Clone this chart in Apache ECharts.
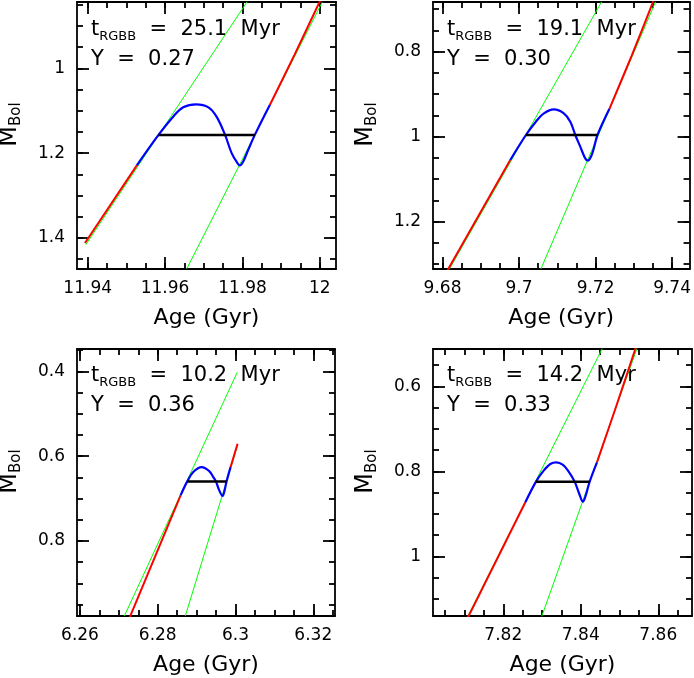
<!DOCTYPE html>
<html>
<head>
<meta charset="utf-8">
<script src="https://cdn.jsdelivr.net/npm/echarts@6/dist/echarts.min.js"></script>
<style>
  html, body { margin: 0; padding: 0; background: #fff; }
  #chart { width: 694px; height: 678px; }
</style>
</head>
<body>
<div id="chart"></div>
<script>
// ---- panel 1 : Y = 0.27 ----
const p1XRange = [11.93724, 12.00417];
const p1YRange = [0.8436, 1.4733];
const p1XTicks = [11.94, 11.96, 11.98, 12];
const p1YTicks = [1, 1.2, 1.4];
const p1RedLow = [[11.9393, 1.412], [11.9527, 1.229]];
const p1Blue = [[11.9527, 1.229], [11.9583, 1.157], [11.9621, 1.114], [11.9647, 1.092], [11.9680, 1.085],
  [11.9712, 1.092], [11.9733, 1.114], [11.9755, 1.157], [11.9772, 1.200], [11.9787, 1.2235], [11.9793, 1.229],
  [11.9802, 1.2196], [11.9815, 1.192], [11.9832, 1.157], [11.9871, 1.086]];
const p1RedHigh = [[11.9871, 1.086], [11.9935, 0.967], [12.0001, 0.840]];
const p1GreenA = [[11.9395, 1.416], [11.9812, 0.843]];
const p1GreenB = [[11.9656, 1.473], [12.0006, 0.844]];
const p1Level = [[11.9583, 1.157], [11.9832, 1.157]];
const p1Text = ['25.1', '0.27'];

// ---- panel 2 : Y = 0.30 ----
const p2XRange = [9.67751, 9.74457];
const p2YRange = [0.6831, 1.3113];
const p2XTicks = [9.68, 9.7, 9.72, 9.74];
const p2YTicks = [0.8, 1, 1.2];
const p2RedLow = [[9.6811, 1.3176], [9.6977, 1.0549]];
const p2Blue = [[9.6977, 1.0549], [9.7018, 0.996], [9.7044, 0.9647], [9.7065, 0.9451], [9.7091, 0.9357],
  [9.7117, 0.9451], [9.7134, 0.9647], [9.7147, 0.996], [9.7160, 1.0235], [9.7173, 1.051], [9.7180, 1.0565],
  [9.7188, 1.047], [9.7195, 1.029], [9.7205, 0.996], [9.7236, 0.9349]];
const p2RedHigh = [[9.7236, 0.9349], [9.7294, 0.8102], [9.7354, 0.6745]];
const p2GreenA = [[9.6818, 1.3114], [9.7216, 0.6824]];
const p2GreenB = [[9.7057, 1.3114], [9.7357, 0.6824]];
const p2Level = [[9.7018, 0.996], [9.7205, 0.996]];
const p2Text = ['19.1', '0.30'];

// ---- panel 3 : Y = 0.36 ----
const p3XRange = [6.25923, 6.32559];
const p3YRange = [0.3474, 0.9771];
const p3XTicks = [6.26, 6.28, 6.3, 6.32];
const p3YTicks = [0.4, 0.6, 0.8];
const p3RedLow = [[6.27268, 0.9827], [6.28588, 0.6925]];
const p3Blue = [[6.28588, 0.6925], [6.28759, 0.6596], [6.28913, 0.6376], [6.29128, 0.6259], [6.29325, 0.6353],
  [6.29428, 0.6494], [6.29496, 0.6596], [6.29582, 0.6808], [6.29668, 0.6941], [6.29719, 0.6808],
  [6.2977, 0.6596], [6.29873, 0.6259]];
const p3RedHigh = [[6.29873, 0.6259], [6.30053, 0.571]];
const p3GreenA = [[6.2714, 0.9773], [6.30045, 0.4024]];
const p3GreenB = [[6.28708, 0.9773], [6.30045, 0.5773]];
const p3Level = [[6.28759, 0.6596], [6.2977, 0.6596]];
const p3Text = ['10.2', '0.36'];

// ---- panel 4 : Y = 0.33 ----
const p4XRange = [7.80186, 7.8687];
const p4YRange = [0.5122, 1.1404];
const p4XTicks = [7.82, 7.84, 7.86];
const p4YTicks = [0.6, 0.8, 1];
const p4RedLow = [[7.8108, 1.1451], [7.82569, 0.8729]];
const p4Blue = [[7.82569, 0.8729], [7.82844, 0.8243], [7.83042, 0.7984], [7.83214, 0.7827], [7.83369, 0.7788],
  [7.83541, 0.7851], [7.83687, 0.8008], [7.83842, 0.8243], [7.83962, 0.8533], [7.84057, 0.8714],
  [7.84126, 0.8573], [7.84229, 0.8243], [7.84418, 0.7788]];
const p4RedHigh = [[7.84418, 0.7788], [7.84934, 0.6416], [7.8545, 0.5004]];
const p4GreenA = [[7.8108, 1.142], [7.84556, 0.5106]];
const p4GreenB = [[7.8299, 1.142], [7.85476, 0.5043]];
const p4Level = [[7.82844, 0.8243], [7.84229, 0.8243]];
const p4Text = ['14.2', '0.33'];

const FONT = 'DejaVu Sans';

const grids = [
  { left: 77, top: 2, width: 259, height: 267 },
  { left: 433, top: 2, width: 259, height: 267 },
  { left: 77, top: 349, width: 258, height: 267 },
  { left: 433, top: 349, width: 259, height: 267 },
];

const panels = [
  { xr: p1XRange, yr: p1YRange, xt: p1XTicks, yt: p1YTicks, red: [p1RedLow, p1RedHigh], blue: p1Blue, green: [p1GreenA, p1GreenB], level: p1Level, text: p1Text, textY: 16 },
  { xr: p2XRange, yr: p2YRange, xt: p2XTicks, yt: p2YTicks, red: [p2RedLow, p2RedHigh], blue: p2Blue, green: [p2GreenA, p2GreenB], level: p2Level, text: p2Text, textY: 16 },
  { xr: p3XRange, yr: p3YRange, xt: p3XTicks, yt: p3YTicks, red: [p3RedLow, p3RedHigh], blue: p3Blue, green: [p3GreenA, p3GreenB], level: p3Level, text: p3Text, textY: 362 },
  { xr: p4XRange, yr: p4YRange, xt: p4XTicks, yt: p4YTicks, red: [p4RedLow, p4RedHigh], blue: p4Blue, green: [p4GreenA, p4GreenB], level: p4Level, text: p4Text, textY: 362 },
];

// minor tick positions: every multiple of step inside the range
function minorTicks(range, step) {
  const out = [];
  for (let k = Math.ceil(range[0] / step); k * step <= range[1]; k++) {
    out.push(Math.round(k * step * 1e6) / 1e6);
  }
  return out;
}

const fmt = v => String(parseFloat(v.toFixed(3)));
const lineCol = { color: '#000', width: 1.8 };

const xAxes = [];
const yAxes = [];
const series = [];
const graphics = [];

panels.forEach((p, g) => {
  const base = {
    gridIndex: g, type: 'value', splitLine: { show: false },
    axisLine: { show: true, onZero: false, lineStyle: lineCol },
  };
  const hidden = { show: false };
  const xMin = minorTicks(p.xr, 0.005);
  const yMin = minorTicks(p.yr, 0.05);

  ['bottom', 'top'].forEach(pos => {
    xAxes.push(Object.assign({}, base, {
      position: pos, min: p.xr[0], max: p.xr[1],
      axisTick: { inside: true, length: 12, customValues: p.xt, lineStyle: lineCol },
      axisLabel: pos === 'bottom'
        ? { customValues: p.xt, margin: 11, formatter: fmt, color: '#000', fontSize: 17, fontFamily: FONT }
        : hidden,
      name: pos === 'bottom' ? 'Age (Gyr)' : '',
      nameLocation: 'middle', nameGap: 38,
      nameTextStyle: { color: '#000', fontSize: 22, fontFamily: FONT },
    }));
    xAxes.push(Object.assign({}, base, {
      position: pos, min: p.xr[0], max: p.xr[1],
      axisLine: { show: false, onZero: false },
      axisTick: { inside: true, length: 6, customValues: xMin, lineStyle: lineCol },
      axisLabel: hidden,
    }));
  });
  ['left', 'right'].forEach(pos => {
    yAxes.push(Object.assign({}, base, {
      position: pos, inverse: true, min: p.yr[0], max: p.yr[1],
      axisTick: { inside: true, length: 12, customValues: p.yt, lineStyle: lineCol },
      axisLabel: pos === 'left'
        ? { customValues: p.yt, margin: 12, formatter: fmt, color: '#000', fontSize: 17, fontFamily: FONT }
        : hidden,
    }));
    yAxes.push(Object.assign({}, base, {
      position: pos, inverse: true, min: p.yr[0], max: p.yr[1],
      axisLine: { show: false, onZero: false },
      axisTick: { inside: true, length: 6, customValues: yMin, lineStyle: lineCol },
      axisLabel: hidden,
    }));
  });

  const ax = { xAxisIndex: g * 4, yAxisIndex: g * 4, type: 'line', showSymbol: false, symbol: 'none', silent: true, animation: false };
  p.green.forEach(d => series.push(Object.assign({}, ax, { data: d, lineStyle: { color: '#00ff00', width: 1 } })));
  p.red.forEach(d => series.push(Object.assign({}, ax, { data: d, smooth: 0.3, lineStyle: { color: '#ff0000', width: 2 } })));
  series.push(Object.assign({}, ax, { data: p.blue, smooth: 0.35, lineStyle: { color: '#0000ff', width: 2.2 } }));
  series.push(Object.assign({}, ax, { data: p.level, lineStyle: { color: '#000', width: 2.5 } }));

  const gr = grids[g];
  graphics.push({
    type: 'text', x: gr.left + 14, y: p.textY, silent: true,
    style: {
      text: '{a|t}{b|RGBB}{a|  =  ' + p.text[0] + '  Myr}',
      verticalAlign: 'top', fill: '#000',
      rich: {
        a: { fontSize: 21, fontFamily: FONT, fill: '#000' },
        b: { fontSize: 13, fontFamily: FONT, fill: '#000', padding: [14, 0, 0, 0] },
      },
    },
  });
  graphics.push({
    type: 'text', x: gr.left + 14, y: p.textY + 33, silent: true,
    style: { text: 'Y  =  ' + p.text[1], font: '21px "' + FONT + '"', verticalAlign: 'top', fill: '#000' },
  });
  graphics.push({
    type: 'text', x: gr.left - 82, y: gr.top + gr.height / 2 - 11, rotation: Math.PI / 2, silent: true,
    style: {
      text: '{m|M}{s|Bol}', align: 'center', verticalAlign: 'top', fill: '#000',
      rich: {
        m: { fontSize: 24, fontFamily: FONT, fill: '#000' },
        s: { fontSize: 15, fontFamily: FONT, fill: '#000', padding: [14, 0, 0, 0] },
      },
    },
  });
});

const myChart = echarts.init(document.getElementById('chart'));
myChart.setOption({
  animation: false,
  backgroundColor: '#fff',
  grid: grids,
  xAxis: xAxes,
  yAxis: yAxes,
  series: series,
  graphic: graphics,
});
</script>
</body>
</html>
